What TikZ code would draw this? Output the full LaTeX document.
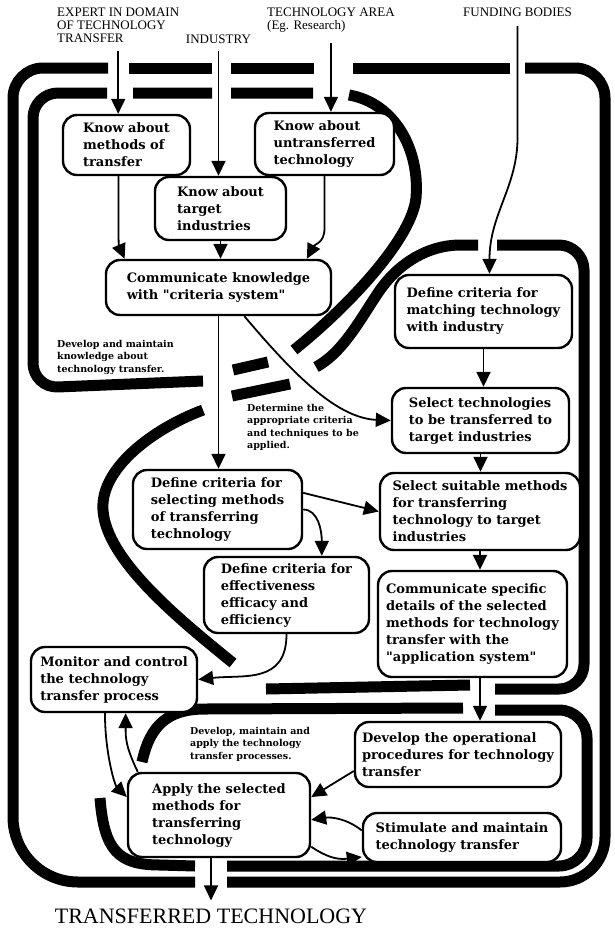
\documentclass[tikz,border=0pt]{standalone}
\usepackage{fontspec}
\setmainfont{Liberation Serif}
\newfontfamily\boxserif{DejaVu Serif}
\usetikzlibrary{arrows.meta}

\begin{document}
\begin{tikzpicture}[x=1pt, y=-1pt,
  box/.style={draw, fill=white, line width=2.4pt, rounded corners=14pt, align=left, inner sep=3pt,
    font=\boxserif\bfseries\fontsize{13}{17}\selectfont},
  toplabel/.style={align=left, inner sep=0pt, font=\fontsize{13}{13}\selectfont},
  note/.style={align=left, inner sep=0pt, anchor=north west, font=\boxserif\bfseries\fontsize{9.5}{12.5}\selectfont},
  flow/.style={line width=1.8pt, -{Triangle[length=15pt,width=14pt]}},
  boundary/.style={line width=11pt}]
\useasboundingbox (0,0) rectangle (614,929);

% outer boundary
\draw[boundary, rounded corners=30pt] (108,68) -- (13,68) -- (13,700) [rounded corners=65pt] -- (13,882) -- (195,882);
\draw[boundary] (129,68) -- (212,68) (231,68) -- (314,68) (353,68) -- (510,68);
\draw[boundary, rounded corners=30pt] (525,68) -- (605,68) -- (605,700) [rounded corners=45pt] -- (605,882) -- (227,882);

% knowledge loop
\draw[boundary, rounded corners=25pt] (107,93) -- (33,93) -- (33,388) -- (203,381);
\draw[boundary] (133,93) -- (212,93) (231,93) -- (313,93) (233,370) -- (268,362);
\draw[boundary] (349,95) .. controls (395,103) and (420,150) .. (416,198) .. controls (412,238) and (350,305) .. (294,350);

% criteria loop
\draw[boundary, rounded corners=25pt] (266,689) -- (470,685) (495,689) -- (584,689) -- (584,245) -- (497,245);
\draw[boundary] (478,245) -- (458,245) .. controls (428,246) and (400,262) .. (380,290) .. controls (362,316) and (344,352) .. (316,367);
\draw[boundary] (290,384) -- (232,396);
\draw[boundary] (203,410) .. controls (150,430) and (100,470) .. (103,510) .. controls (106,560) and (180,620) .. (233,663);

% application loop
\draw[boundary] (142,762) .. controls (150,725) and (168,709) .. (205,709) -- (463,708);
\draw[boundary, rounded corners=28pt] (495,710) -- (587,710) -- (587,866) -- (227,866);
\draw[boundary] (100,798) .. controls (104,850) and (118,865) .. (160,865) -- (195,866);

\node[toplabel, anchor=north west] (expert) at (57,8) {EXPERT IN DOMAIN\\OF TECHNOLOGY\\TRANSFER};
\node[toplabel] (industry) at (218.5,39) {INDUSTRY};
\node[toplabel, anchor=north west] (techarea) at (267,8) {TECHNOLOGY AREA\\(Eg. Research)};
\node[toplabel, anchor=north west] (funding) at (463,8) {FUNDING BODIES};

\node[box, minimum width=127pt, minimum height=60pt] (methods) at (126.5,145) {Know about\\methods of\\transfer};
\node[box, minimum width=139pt, minimum height=62pt] (untrans) at (324.5,144) {Know about\\untransferred\\technology};
\node[box, minimum width=131pt, minimum height=63pt] (target) at (220.5,208.5) {Know about\\target\\industries};
\node[box, minimum width=225pt, minimum height=55pt] (comm) at (218.5,287.5) {Communicate knowledge\\with "criteria system"};
\node[box, minimum width=177pt, minimum height=73pt] (matching) at (483.5,311.5) {Define criteria for\\matching technology\\with industry};
\node[box, minimum width=177pt, minimum height=65pt] (selecttech) at (480.5,420.5) {Select technologies\\to be transferred to\\target industries};
\node[box, minimum width=200pt, minimum height=77pt] (suitable) at (480,511.5) {Select suitable methods\\for transferring\\technology to target\\industries};
\node[box, minimum width=189pt, minimum height=106pt] (details) at (472.5,624) {Communicate specific\\details of the selected\\methods for technology\\transfer with the\\"application system"};
\node[box, minimum width=169pt, minimum height=79pt] (selecting) at (217.5,509.5) {Define criteria for\\selecting methods\\of transferring\\technology};
\node[box, minimum width=165pt, minimum height=76pt] (effect) at (286.5,595) {Define criteria for\\effectiveness\\efficacy and\\efficiency};
\node[box, minimum width=166pt, minimum height=65pt] (monitor) at (114,679.5) {Monitor and control\\the technology\\transfer process};
\node[box, minimum width=206pt, minimum height=65pt] (operational) at (458,754.5) {Develop the operational\\procedures for technology\\transfer};
\node[box, minimum width=182pt, minimum height=84pt] (apply) at (219,815) {Apply the selected\\methods for\\transferring\\technology};
\node[box, minimum width=198pt, minimum height=49pt] (stimulate) at (462,837.5) {Stimulate and maintain\\technology transfer};

\node[note] (knownote) at (57,340) {Develop and maintain\\knowledge about\\technology transfer.};
\node[note] (critnote) at (247,404) {Determine the\\appropriate criteria\\and techniques to be\\applied.};
\node[note] (appnote) at (190,727) {Develop, maintain and\\apply the technology\\transfer processes.};

\node[font=\fontsize{22}{24}\selectfont, inner sep=0pt] (final) at (211,916) {TRANSFERRED TECHNOLOGY};

\draw[flow, shorten <=8pt] (expert.south) -- (expert.south |- methods.north);
\draw[flow, shorten <=7pt] (industry.south) -- (industry.south |- target.north);
\draw[flow, shorten <=10pt] (techarea.south) -- (techarea.south |- untrans.north);
\draw[flow, shorten <=9pt] (funding.south) -- ++(0,120) .. controls +(0,50) and +(0,-60) .. ([xshift=6pt]matching.north);
\draw[flow] ([xshift=-8pt]methods.south) -- ++(0,45) .. controls +(0,18) and +(-6,-14) .. (comm.163);
\draw[flow] (target.south) -- (target.south |- comm.north);
\draw[flow] (untrans.south) -- ++(0,52) .. controls +(0,15) and +(8,-15) .. (comm.18);
\draw[flow] (comm.south) -- (comm.south |- selecting.north);
\draw[flow] (comm.-48) .. controls (290,370) and (335,418) .. (selecttech.west);
\draw[flow] (matching.south) -- (matching.south |- selecttech.north);
\draw[flow] (selecttech.south) -- (selecttech.south |- suitable.north);
\draw[flow] (suitable.south) -- (suitable.south |- details.north);
\draw[flow] (details.south -| suitable.south) -- (suitable.south |- operational.north);
\draw[flow] (selecting.11) -- (suitable.west);
\draw[flow] (selecting.east) .. controls +(15,0) and +(0,-25) .. (effect.48);
\draw[flow] (effect.south) .. controls +(0,50) and +(45,-5) .. (monitor.east);
\draw[flow] (monitor.-105) .. controls +(0,40) and +(-12,-12) .. (apply.169);
\draw[flow] (apply.152) .. controls +(-12,-25) and +(0,25) .. (monitor.-71);
\draw[flow] (operational.189) -- (apply.11);
\draw[flow] (stimulate.176) .. controls +(-15,-12) and +(20,-3) .. (apply.-3);
\draw[flow] (apply.-19) .. controls +(15,10) and +(-25,3) .. (stimulate.191);
\draw[flow, shorten >=8pt] (final.north |- apply.south) -- (final.north);
\end{tikzpicture}
\end{document}
